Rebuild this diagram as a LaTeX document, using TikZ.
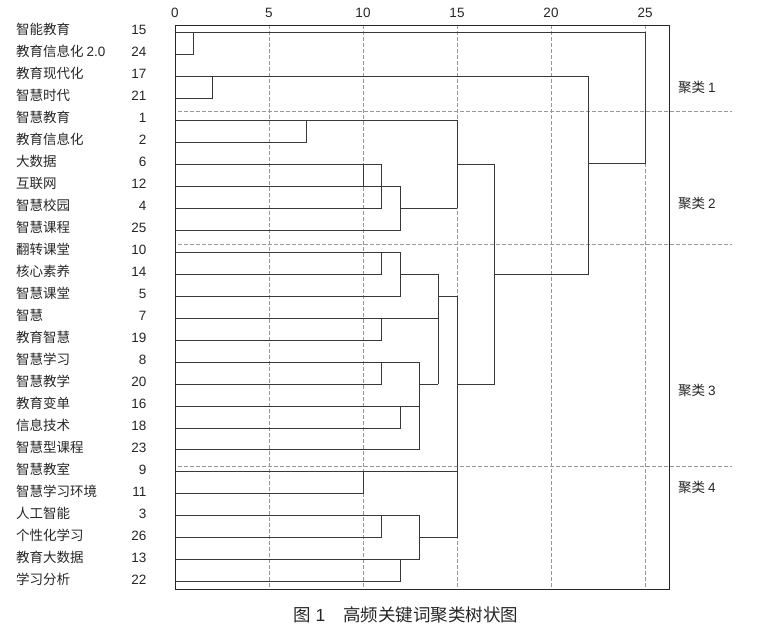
\documentclass[tikz,border=0pt]{standalone}
\usepackage{fontspec}
\setmainfont{Liberation Sans}
\newfontfamily\cjk{Noto Sans CJK SC}
\newfontfamily\lat{Liberation Sans}
\begin{document}
\begin{tikzpicture}[x=1pt,y=-1pt,
  declare function={R(\i)=32.3+21.98*(\i-1);},
  lbl/.style={font=\fontsize{13.5}{13.5}\selectfont\cjk, text=black!85, inner sep=0pt, anchor=base west},
  num/.style={font=\fontsize{13.5}{13.5}\selectfont, text=black!85, inner sep=0pt, anchor=base east},
  axn/.style={font=\fontsize{13.5}{13.5}\selectfont, text=black!85, inner sep=0pt, anchor=base},
  tree/.style={draw=black!78, line width=0.9pt},
  gridline/.style={draw=black!40, dash pattern=on 3.5pt off 2.5pt, line width=0.7pt},
]
\useasboundingbox (0,0) rectangle (757,638);

% row labels and numbers
\foreach \i/\t/\n in {
  1/{智能教育}/15, 2/{教育信息化 {\lat 2.0}}/24, 3/{教育现代化}/17, 4/{智慧时代}/21,
  5/{智慧教育}/1, 6/{教育信息化}/2, 7/{大数据}/6, 8/{互联网}/12, 9/{智慧校园}/4,
  10/{智慧课程}/25, 11/{翻转课堂}/10, 12/{核心素养}/14, 13/{智慧课堂}/5,
  14/{智慧}/7, 15/{教育智慧}/19, 16/{智慧学习}/8, 17/{智慧教学}/20,
  18/{教育变单}/16, 19/{信息技术}/18, 20/{智慧型课程}/23, 21/{智慧教室}/9,
  22/{智慧学习环境}/11, 23/{人工智能}/3, 24/{个性化学习}/26, 25/{教育大数据}/13,
  26/{学习分析}/22}{
  \node[lbl] (lab\i) at (16,{R(\i)+2.2}) {\t};
  \node[num] (num\i) at (146.5,{R(\i)+2.2}) {\n};
}

% axis numbers
\foreach \k in {0,5,10,15,20,25}{
  \node[axn] (ax\k) at ({175+18.8*\k},17.3) {\k};
}

% vertical grid lines
\foreach \k in {5,10,15,20,25}{
  \draw[gridline] ({175+18.8*\k},25) -- ({175+18.8*\k},589);
}

% cluster separators
\foreach \yy in {111,244,466}{
  \draw[gridline] (178,\yy) -- (732,\yy);
}

% dendrogram
\begin{scope}[x=18.8pt, xshift=175pt]
  % cluster 1
  \draw[tree] (0,{R(1)}) -- (25,{R(1)}) -- (25,163.3) -- (22,163.3);
  \draw[tree] (0,{R(2)}) -- (1,{R(2)}) -- (1,{R(1)});
  \draw[tree] (0,{R(3)}) -- (22,{R(3)}) -- (22,274);
  \draw[tree] (0,{R(4)}) -- (2,{R(4)}) -- (2,{R(3)});
  % cluster 2
  \draw[tree] (0,{R(5)}) -- (15,{R(5)}) -- (15,{R(9)});
  \draw[tree] (0,{R(6)}) -- (7,{R(6)}) -- (7,{R(5)});
  \draw[tree] (15,{R(7)}) -- (17,{R(7)}) -- (17,{R(17)});
  \draw[tree] (0,{R(7)}) -- (11,{R(7)}) -- (11,{R(9)}) -- (0,{R(9)});
  \draw[tree] (10,{R(7)}) -- (10,{R(8)});
  \draw[tree] (0,{R(8)}) -- (12,{R(8)}) -- (12,{R(10)}) -- (0,{R(10)});
  \draw[tree] (12,{R(9)}) -- (15,{R(9)});
  \draw[tree] (17,{R(12)}) -- (22,{R(12)});
  % cluster 3
  \draw[tree] (0,{R(11)}) -- (12,{R(11)}) -- (12,{R(13)}) -- (0,{R(13)});
  \draw[tree] (0,{R(12)}) -- (11,{R(12)}) -- (11,{R(11)});
  \draw[tree] (12,{R(12)}) -- (14,{R(12)}) -- (14,{R(17)});
  \draw[tree] (14,{R(13)}) -- (15,{R(13)}) -- (15,{R(24)});
  \draw[tree] (15,{R(17)}) -- (17,{R(17)});
  \draw[tree] (0,{R(14)}) -- (14,{R(14)});
  \draw[tree] (0,{R(15)}) -- (11,{R(15)}) -- (11,{R(14)});
  \draw[tree] (0,{R(16)}) -- (13,{R(16)}) -- (13,{R(20)}) -- (0,{R(20)});
  \draw[tree] (0,{R(17)}) -- (11,{R(17)}) -- (11,{R(16)});
  \draw[tree] (13,{R(17)}) -- (14,{R(17)});
  \draw[tree] (0,{R(18)}) -- (13,{R(18)});
  \draw[tree] (0,{R(19)}) -- (12,{R(19)}) -- (12,{R(18)});
  % cluster 4
  \draw[tree] (0,{R(21)}) -- (15,{R(21)});
  \draw[tree] (0,{R(22)}) -- (10,{R(22)}) -- (10,{R(21)});
  \draw[tree] (0,{R(23)}) -- (13,{R(23)}) -- (13,{R(25)}) -- (0,{R(25)});
  \draw[tree] (0,{R(24)}) -- (11,{R(24)}) -- (11,{R(23)});
  \draw[tree] (13,{R(24)}) -- (15,{R(24)});
  \draw[tree] (0,{R(26)}) -- (12,{R(26)}) -- (12,{R(25)});
\end{scope}

% frame
\draw[draw=black!85, line width=0.9pt] (175,25) rectangle (669,589);

% cluster labels
\node[lbl] (c1) at (678,92.3) {聚类 {\lat 1}};
\node[lbl] (c2) at (678,208) {聚类 {\lat 2}};
\node[lbl] (c3) at (678,395) {聚类 {\lat 3}};
\node[lbl] (c4) at (678,492.7) {聚类 {\lat 4}};

% caption
\node[inner sep=0pt, anchor=base west, text=black!85, font=\fontsize{17.5}{17.5}\selectfont] (cap) at (293,621.6)
  {{\cjk 图} 1\hspace{18pt}{\cjk 高频关键词聚类树状图}};
\end{tikzpicture}
\end{document}
